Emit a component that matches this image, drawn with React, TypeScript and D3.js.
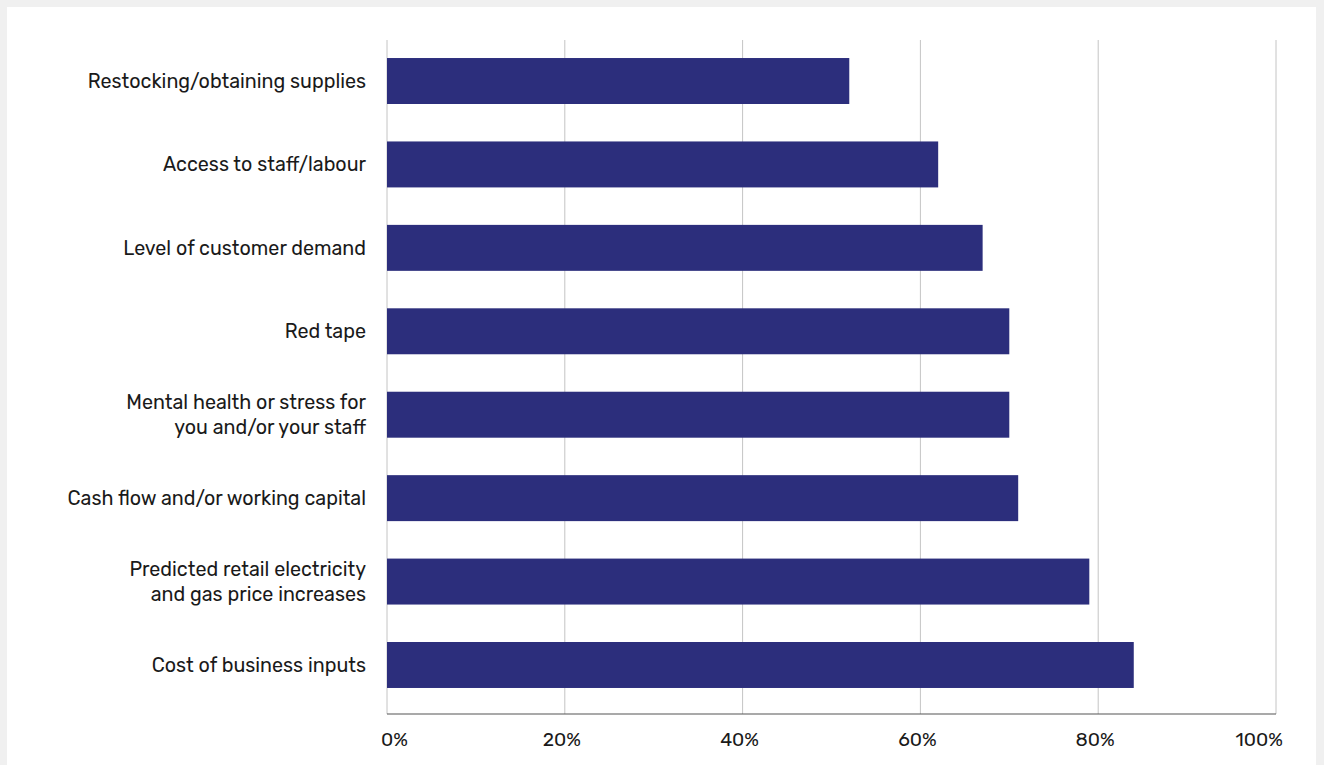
import React from "react";
import * as d3 from "d3";

const categories: string[][] = [
  ["Restocking/obtaining supplies"],
  ["Access to staff/labour"],
  ["Level of customer demand"],
  ["Red tape"],
  ["Mental health or stress for", "you and/or your staff"],
  ["Cash flow and/or working capital"],
  ["Predicted retail electricity", "and gas price increases"],
  ["Cost of business inputs"],
];
const values: number[] = [52, 62, 67, 70, 70, 71, 79, 84];
const ticks: number[] = [0, 20, 40, 60, 80, 100];

const W = 1324;
const H = 765;

export default function App() {
  const x = d3.scaleLinear().domain([0, 100]).range([387, 1276]);
  const idx = categories.map((_, i) => String(i));
  const y = d3
    .scaleBand<string>()
    .domain(idx)
    .range([39.3, 706.7])
    .paddingInner(0.449)
    .paddingOuter(0.2245);
  const gridTop = 40;
  const axisY = 714;
  const font = "Rubik, Inter, 'Open Sans', sans-serif";
  const last = ticks.length - 1;
  return (
    <svg
      width={W}
      height={H}
      style={{ position: "absolute", left: 0, top: 0, display: "block" }}
    >
      <rect x={0} y={0} width={W} height={H} fill="#f0f0f0" />
      <rect x={7} y={7} width={1309} height={H - 7} fill="#ffffff" />
      {ticks.map((t) => (
        <line
          key={"g" + t}
          x1={x(t)}
          x2={x(t)}
          y1={gridTop}
          y2={axisY}
          stroke="#c4c4c4"
          strokeWidth={1}
        />
      ))}
      {values.map((v, i) => (
        <rect
          key={"b" + i}
          x={x(0)}
          y={y(String(i))}
          width={x(v) - x(0)}
          height={y.bandwidth()}
          fill="#2c2e7c"
        />
      ))}
      <line
        x1={x(0)}
        x2={x(100)}
        y1={axisY}
        y2={axisY}
        stroke="#555555"
        strokeWidth={1.2}
      />
      {ticks.map((t, i) => {
        const anchor = i === 0 ? "start" : i === last ? "end" : "middle";
        const tx = i === 0 ? x(t) - 6 : i === last ? x(t) + 7 : x(t) - 3;
        return (
          <text
            key={"t" + t}
            x={tx}
            y={746}
            textAnchor={anchor}
            fontFamily={font}
            fontSize={19.3}
            fill="#1a1a1a"
          >
            {t + "%"}
          </text>
        );
      })}
      {categories.map((lines, i) => {
        const cy = (y(String(i)) as number) + y.bandwidth() / 2;
        const lh = 25;
        const start = cy - ((lines.length - 1) * lh) / 2;
        return (
          <text
            key={"c" + i}
            x={366}
            textAnchor="end"
            fontFamily={font}
            fontSize={19.7}
            fill="#1a1a1a"
          >
            {lines.map((l, j) => (
              <tspan key={j} x={366} y={start + j * lh} dy="0.35em">
                {l}
              </tspan>
            ))}
          </text>
        );
      })}
    </svg>
  );
}
